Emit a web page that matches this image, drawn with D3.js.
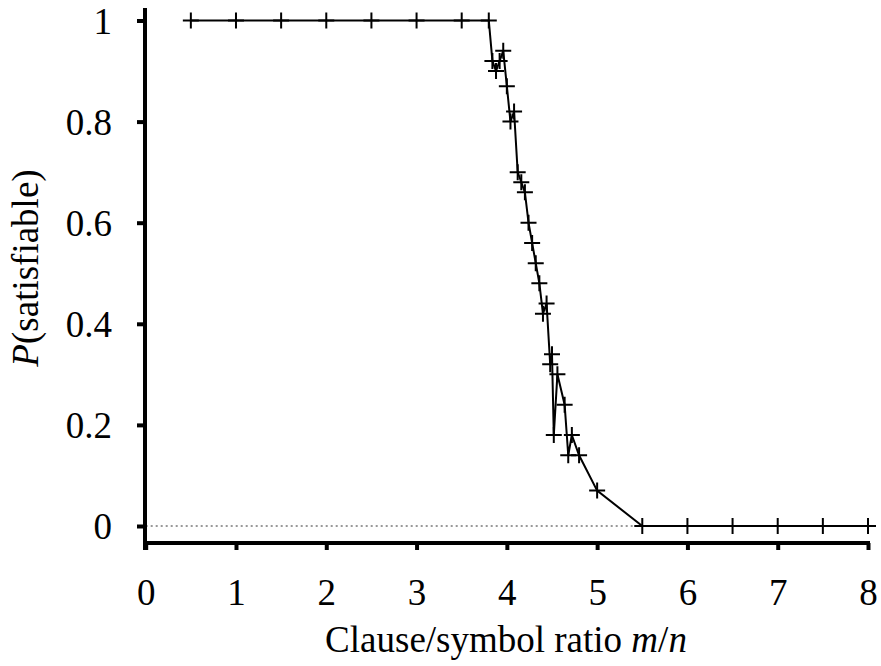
<!DOCTYPE html>
<html>
<head>
<meta charset="utf-8">
<script src="https://cdn.jsdelivr.net/npm/d3@7"></script>
<style>
  body { margin: 0; background: #fff; }
  text { font-family: "Liberation Serif", "Times New Roman", serif; fill: #000; }
</style>
</head>
<body>
<div class="wrapper"></div>
<script>
// m/n ratio and measured probability of satisfiability
const ratios = [0.5, 1, 1.5, 2, 2.5, 3, 3.5, 3.8, 3.84, 3.88, 3.92, 3.96, 4.0, 4.04, 4.08,
  4.12, 4.16, 4.2, 4.24, 4.28, 4.32, 4.36, 4.4, 4.44, 4.48, 4.5, 4.52, 4.56, 4.64, 4.68,
  4.72, 4.8, 5, 5.5, 6, 6.5, 7, 7.5, 8]
const probs = [1, 1, 1, 1, 1, 1, 1, 1, 0.92, 0.90, 0.92, 0.94, 0.87, 0.80, 0.82,
  0.70, 0.68, 0.66, 0.60, 0.56, 0.52, 0.48, 0.42, 0.44, 0.32, 0.34, 0.18, 0.30, 0.24, 0.14,
  0.18, 0.14, 0.07, 0, 0, 0, 0, 0, 0]
const xTicks = [0, 1, 2, 3, 4, 5, 6, 7, 8]
const yTicks = [0, 0.2, 0.4, 0.6, 0.8, 1]

const width = 881, height = 666

const data = ratios.map((r, i) => ({ x: r, y: probs[i] }))

const x = d3.scaleLinear().domain([0, 8]).range([145.7, 868])
const y = d3.scaleLinear().domain([0, 1]).range([526, 20.5])

const svg = d3.select('.wrapper')
  .append('svg')
  .attr('width', width)
  .attr('height', height)

// dotted zero line
svg.append('line')
  .attr('x1', x(0)).attr('x2', x(5.5))
  .attr('y1', y(0)).attr('y2', y(0))
  .attr('stroke', '#333')
  .attr('stroke-width', 1)
  .attr('stroke-dasharray', '2,3')

// y axis
const yAxis = svg.append('g')
  .attr('transform', 'translate(145, 0)')
  .call(d3.axisLeft(y).tickValues(yTicks).tickSize(8).tickPadding(25)
    .tickFormat(d => d3.format('~g')(d)))
yAxis.select('.domain').remove()
yAxis.selectAll('.tick line').attr('stroke', '#000').attr('stroke-width', 4)
yAxis.selectAll('.tick text').attr('font-size', 37).attr('dy', '0.34em')
  .style('font-family', '"Liberation Serif", serif')
svg.append('line')
  .attr('x1', 145).attr('x2', 145).attr('y1', 8).attr('y2', 550)
  .attr('stroke', '#000').attr('stroke-width', 4)

// x axis
const xAxis = svg.append('g')
  .attr('transform', 'translate(0, 543)')
  .call(d3.axisBottom(x).tickValues(xTicks).tickSize(7).tickPadding(29)
    .tickFormat(d3.format('d')))
xAxis.select('.domain').remove()
xAxis.selectAll('.tick line').attr('stroke', '#000').attr('stroke-width', 4)
xAxis.selectAll('.tick text').attr('font-size', 37)
  .style('font-family', '"Liberation Serif", serif')
svg.append('line')
  .attr('x1', 143).attr('x2', 870).attr('y1', 543).attr('y2', 543)
  .attr('stroke', '#000').attr('stroke-width', 4)

// data line
const line = d3.line().x(d => x(d.x)).y(d => y(d.y))
svg.append('path')
  .datum(data)
  .attr('d', line)
  .attr('fill', 'none')
  .attr('stroke', '#000')
  .attr('stroke-width', 2)

// plus markers
svg.selectAll('.mark')
  .data(data)
  .enter().append('path')
  .attr('class', 'mark')
  .attr('d', d => `M${x(d.x) - 8},${y(d.y)}H${x(d.x) + 8}M${x(d.x)},${y(d.y) - 8}V${y(d.y) + 8}`)
  .attr('stroke', '#000')
  .attr('stroke-width', 2)

// axis titles
const xTitle = svg.append('text')
  .attr('x', 506)
  .attr('y', 652)
  .attr('text-anchor', 'middle')
  .attr('font-size', 37)
xTitle.append('tspan').text('Clause/symbol ratio ')
xTitle.append('tspan').attr('font-style', 'italic').text('m')
xTitle.append('tspan').text('/')
xTitle.append('tspan').attr('font-style', 'italic').text('n')

const yTitle = svg.append('text')
  .attr('transform', 'translate(38, 268) rotate(-90)')
  .attr('text-anchor', 'middle')
  .attr('font-size', 37)
yTitle.append('tspan').attr('font-style', 'italic').text('P')
yTitle.append('tspan').text('(satisfiable)')
</script>
</body>
</html>
